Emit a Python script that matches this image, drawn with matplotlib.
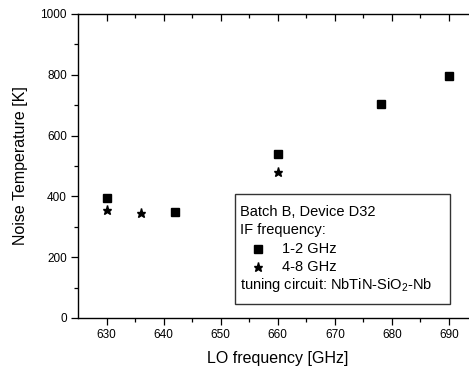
import matplotlib
matplotlib.use('Agg')
import matplotlib.pyplot as plt
from matplotlib.patches import Rectangle

plt.rcParams['font.family'] = ['Liberation Sans', 'DejaVu Sans']
plt.rcParams['mathtext.fontset'] = 'custom'
plt.rcParams['mathtext.rm'] = 'Liberation Sans'
plt.rcParams['mathtext.it'] = 'Liberation Sans'

# IF 1-2 GHz (squares)
lo_sq = [630, 642, 660, 678, 690]
tn_sq = [395, 348, 540, 705, 795]
# IF 4-8 GHz (stars)
lo_st = [630, 636, 660]
tn_st = [354, 344, 480]

fig = plt.figure(figsize=(4.69, 3.71), dpi=100)
ax = fig.add_axes([0.1663, 0.1429, 0.852, 0.8194])

ax.plot(lo_sq, tn_sq, linestyle='none', marker='s', color='black', markersize=5.5)
ax.plot(lo_st, tn_st, linestyle='none', marker='*', color='black', markersize=6.5)

ax.set_xlim(625, 695)
ax.set_ylim(0, 1000)
ax.set_xticks(range(630, 691, 10))
ax.set_xticks(range(635, 695, 10), minor=True)
ax.set_yticks(range(0, 1001, 200))
ax.set_yticks(range(100, 1000, 200), minor=True)

ax.spines['right'].set_visible(False)
for s in ['left', 'bottom', 'top']:
    ax.spines[s].set_linewidth(1.0)

ax.tick_params(axis='both', which='major', labelsize=8.5, length=5, width=0.9, direction='out', pad=3)
ax.tick_params(axis='both', which='minor', length=3, width=0.9, direction='out')
ax.tick_params(axis='x', which='both', top=True)
ax.tick_params(axis='y', which='both', right=False)
# top ticks point inward
for t in ax.xaxis.get_major_ticks() + ax.xaxis.get_minor_ticks():
    t.tick2line.set_marker(3)

ax.set_xlabel('LO frequency [GHz]', fontsize=11.5, labelpad=7)
ax.set_ylabel('Noise Temperature [K]', fontsize=11.5, labelpad=9)

# legend box
ax.add_patch(Rectangle((0.394, 0.046), 0.537, 0.362, transform=ax.transAxes,
                       fill=False, edgecolor='#333333', linewidth=1.0, zorder=3))
fs = 10.5
ax.text(0.4055, 0.3497, 'Batch B, Device D32', transform=ax.transAxes, fontsize=fs, va='center')
ax.text(0.4055, 0.2895, 'IF frequency:', transform=ax.transAxes, fontsize=fs, va='center')
ax.plot([0.4498], [0.226], transform=ax.transAxes, marker='s', color='black', markersize=5.5, clip_on=False)
ax.text(0.51, 0.226, '1-2 GHz', transform=ax.transAxes, fontsize=fs, va='center')
ax.plot([0.4498], [0.1668], transform=ax.transAxes, marker='*', color='black', markersize=6.5, clip_on=False)
ax.text(0.51, 0.1668, '4-8 GHz', transform=ax.transAxes, fontsize=fs, va='center')
ax.text(0.4055, 0.1086, r'tuning circuit: NbTiN-SiO$_2$-Nb', transform=ax.transAxes, fontsize=fs, va='center')

fig.savefig('out.png', dpi=100)
